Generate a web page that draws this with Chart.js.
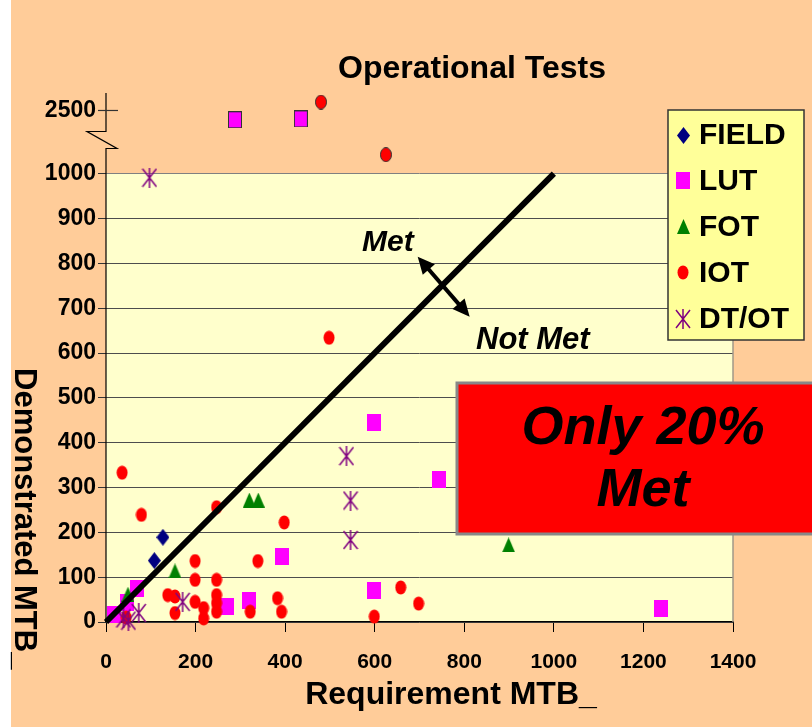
<!DOCTYPE html>
<html>
<head>
<meta charset="utf-8">
<title>Operational Tests</title>
<script src="https://cdn.jsdelivr.net/npm/chart.js@4/dist/chart.umd.min.js"></script>
<style>
  html, body { margin: 0; padding: 0; background: #ffffff; }
  canvas { display: block; }
</style>
</head>
<body>
<canvas id="chart" width="812" height="727"></canvas>
<script>
// requirement (x) vs demonstrated (y) per test type
const fieldReq = [108, 127];
const fieldDemo = [137, 189];

const lutReq = [17, 47, 69, 270, 320, 392, 598, 599, 743, 1239, 288, 435];
const lutDemo = [17, 44, 74, 34, 49, 145, 71, 445, 317, 29, 2280, 2300];

const fotReq = [49, 154, 320, 340, 899];
const fotDemo = [62, 114, 272, 272, 172];

const iotReq = [36, 79, 247, 398, 498, 45, 138, 154, 154, 199, 199, 199, 218, 218,
                247, 247, 247, 247, 322, 339, 383, 392, 599, 658, 698, 480, 625];
const iotDemo = [333, 239, 256, 222, 634, 10, 60, 57, 20, 136, 94, 45, 31, 8,
                 94, 60, 42, 23, 23, 136, 53, 23, 12, 77, 41, 2700, 1450];

const dtotReq = [97, 537, 546, 546, 171, 39, 50, 73];
const dtotDemo = [991, 370, 271, 183, 45, 8, 3, 20];

// requirement = demonstrated line
const goalReq = [0, 1000];
const goalDemo = [0, 1000];

const xTicks = [0, 200, 400, 600, 800, 1000, 1200, 1400];
const xTickLabels = ['0', '200', '400', '600', '800', '1000', '1200', '1400'];
const yTickValues = [0, 100, 200, 300, 400, 500, 600, 700, 800, 900, 1000, 2500];
const yTickLabels = ['0', '100', '200', '300', '400', '500', '600', '700', '800', '900', '1000', '2500'];

const seriesNames = ['FIELD', 'LUT', 'FOT', 'IOT', 'DT/OT'];

const FONT = '"Liberation Sans", Arial, Helvetica, sans-serif';

// values above 1000 are squeezed into the strip above the break
function breakY(v) {
    return v <= 1000 ? v : 1000 + (v - 1000) * 0.094;
}

function pts(xs, ys) {
    return xs.map((x, i) => ({ x: x, y: breakY(ys[i]) }));
}

function makeMarker(w, h, draw) {
    const c = document.createElement('canvas');
    c.width = w;
    c.height = h;
    draw(c.getContext('2d'), w, h);
    return c;
}

const diamond = makeMarker(13, 17, (g, w, h) => {
    g.fillStyle = '#000080';
    g.beginPath();
    g.moveTo(w / 2, 0); g.lineTo(w, h / 2); g.lineTo(w / 2, h); g.lineTo(0, h / 2);
    g.closePath();
    g.fill();
});

function squareMarker(outline) {
    return makeMarker(14, 17, (g, w, h) => {
        g.fillStyle = '#ff00ff';
        g.fillRect(0, 0, w, h);
        if (outline) {
            g.strokeStyle = '#333333';
            g.lineWidth = 1;
            g.strokeRect(0.5, 0.5, w - 1, h - 1);
        }
    });
}
const square = squareMarker(false);
const squareOut = squareMarker(true);

const triangle = makeMarker(13, 15, (g, w, h) => {
    g.fillStyle = '#008000';
    g.beginPath();
    g.moveTo(w / 2, 0); g.lineTo(w, h); g.lineTo(0, h);
    g.closePath();
    g.fill();
});

function dotMarker(outline) {
    return makeMarker(12, 15, (g, w, h) => {
        g.fillStyle = '#ff0000';
        g.beginPath();
        g.ellipse(w / 2, h / 2, w / 2 - 0.5, h / 2 - 0.5, 0, 0, Math.PI * 2);
        g.fill();
        if (outline) {
            g.strokeStyle = '#333333';
            g.lineWidth = 1;
            g.stroke();
        }
    });
}
const dot = dotMarker(false);
const dotOut = dotMarker(true);

const star = makeMarker(16, 20, (g, w, h) => {
    g.strokeStyle = '#800080';
    g.lineWidth = 1.5;
    g.beginPath();
    g.moveTo(1, 1); g.lineTo(w - 1, h - 1);
    g.moveTo(w - 1, 1); g.lineTo(1, h - 1);
    g.moveTo(w / 2, 0); g.lineTo(w / 2, h);
    g.stroke();
});

const legendMarkers = [diamond, square, triangle, dot, star];

function scatterSet(label, data, style, order) {
    return {
        label: label,
        data: data,
        pointStyle: style,
        pointRadius: 8,
        showLine: false,
        clip: false,
        order: order
    };
}

const backdrop = {
    id: 'backdrop',
    beforeDraw(chart) {
        const ctx = chart.ctx;
        const xs = chart.scales.x, ys = chart.scales.y;
        ctx.save();
        ctx.fillStyle = '#ffffff';
        ctx.fillRect(0, 0, chart.width, chart.height);
        ctx.fillStyle = '#ffcc99';
        ctx.fillRect(11, 0, chart.width - 11, chart.height);
        // plot area only covers 0..1000
        const x0 = xs.getPixelForValue(0), x1 = xs.getPixelForValue(1400);
        const yTop = ys.getPixelForValue(1000), yBot = ys.getPixelForValue(0);
        ctx.fillStyle = '#ffffcc';
        ctx.fillRect(x0, yTop, x1 - x0, yBot - yTop);
        ctx.restore();
    }
};

function arrowHead(ctx, fx, fy, tx, ty) {
    const a = Math.atan2(ty - fy, tx - fx);
    const len = 17, half = 8;
    ctx.beginPath();
    ctx.moveTo(tx, ty);
    ctx.lineTo(tx - len * Math.cos(a) + half * Math.sin(a), ty - len * Math.sin(a) - half * Math.cos(a));
    ctx.lineTo(tx - len * Math.cos(a) - half * Math.sin(a), ty - len * Math.sin(a) + half * Math.cos(a));
    ctx.closePath();
    ctx.fill();
}

const overlay = {
    id: 'overlay',
    afterDraw(chart) {
        const ctx = chart.ctx;
        const xs = chart.scales.x, ys = chart.scales.y;
        const area = chart.chartArea;
        ctx.save();

        // right edge of the plot
        ctx.strokeStyle = '#a09888';
        ctx.lineWidth = 1.5;
        ctx.beginPath();
        ctx.moveTo(area.right, ys.getPixelForValue(1000));
        ctx.lineTo(area.right, ys.getPixelForValue(0));
        ctx.stroke();

        // y axis with break
        const ax = area.left;
        const brkTop = 131.5, brkBot = 148.5;
        ctx.strokeStyle = '#000000';
        ctx.lineWidth = 1.2;
        ctx.beginPath();
        ctx.moveTo(ax, area.top);
        ctx.lineTo(ax, brkTop);
        ctx.lineTo(ax - 19, brkTop);
        ctx.lineTo(ax + 11, brkBot);
        ctx.lineTo(ax, brkBot);
        ctx.lineTo(ax, ys.getPixelForValue(0));
        ctx.stroke();
        const y2500 = ys.getPixelForValue(breakY(2500));
        ctx.strokeStyle = '#333333';
        ctx.beginPath();
        ctx.moveTo(ax - 8, y2500);
        ctx.lineTo(ax + 12, y2500);
        ctx.stroke();

        // titles
        ctx.fillStyle = '#000000';
        ctx.textBaseline = 'alphabetic';
        ctx.textAlign = 'center';
        ctx.font = 'bold 32px ' + FONT;
        ctx.fillText('Operational Tests', 472, 78);
        ctx.font = 'bold 32px ' + FONT;
        ctx.fillText('Requirement MTB_', 451, 704);

        ctx.save();
        ctx.font = 'bold 31px ' + FONT;
        ctx.translate(15, 368);
        ctx.rotate(Math.PI / 2);
        ctx.textAlign = 'left';
        ctx.fillText('Demonstrated MTB_', 0, 0);
        ctx.restore();

        // Met / Not Met arrow
        const ax1 = xs.getPixelForValue(696), ay1 = ys.getPixelForValue(815);
        const ax2 = xs.getPixelForValue(812), ay2 = ys.getPixelForValue(681);
        ctx.strokeStyle = '#000000';
        ctx.fillStyle = '#000000';
        ctx.lineWidth = 4;
        ctx.beginPath();
        const dx = ax2 - ax1, dy = ay2 - ay1, d = Math.hypot(dx, dy);
        ctx.moveTo(ax1 + dx / d * 12, ay1 + dy / d * 12);
        ctx.lineTo(ax2 - dx / d * 12, ay2 - dy / d * 12);
        ctx.stroke();
        arrowHead(ctx, ax2, ay2, ax1, ay1);
        arrowHead(ctx, ax1, ay1, ax2, ay2);

        ctx.font = 'italic bold 30px ' + FONT;
        ctx.textAlign = 'left';
        ctx.fillText('Met', 362, 251);
        ctx.font = 'italic bold 31px ' + FONT;
        ctx.fillText('Not Met', 476, 349);

        // legend
        ctx.fillStyle = '#ffff99';
        ctx.fillRect(668, 110, 136, 230);
        ctx.strokeStyle = '#333333';
        ctx.lineWidth = 1.5;
        ctx.strokeRect(668, 110, 136, 230);
        ctx.font = 'bold 30px ' + FONT;
        ctx.textBaseline = 'middle';
        ctx.fillStyle = '#000000';
        seriesNames.forEach((name, i) => {
            const cy = 135 + i * 45.9;
            const m = legendMarkers[i];
            ctx.drawImage(m, Math.round(683 - m.width / 2), Math.round(cy - m.height / 2));
            ctx.fillText(name, 699, cy + 1);
        });

        // callout box
        ctx.fillStyle = '#ff0000';
        ctx.fillRect(457, 383, 360, 151);
        ctx.strokeStyle = '#888888';
        ctx.lineWidth = 3;
        ctx.strokeRect(457, 383, 360, 151);
        ctx.fillStyle = '#000000';
        ctx.textAlign = 'center';
        ctx.textBaseline = 'alphabetic';
        ctx.font = 'italic bold 54px ' + FONT;
        ctx.fillText('Only 20%', 643, 444);
        ctx.fillText('Met', 643, 506);

        ctx.restore();
    }
};

new Chart(document.getElementById('chart'), {
    type: 'scatter',
    data: {
        datasets: [
            {
                label: 'Goal',
                data: pts(goalReq, goalDemo),
                showLine: true,
                borderColor: '#000000',
                borderWidth: 6,
                pointRadius: 0,
                clip: false,
                order: 0
            },
            scatterSet('FIELD', pts(fieldReq, fieldDemo), diamond, 5),
            scatterSet('LUT', pts(lutReq, lutDemo), ctx => (ctx.raw && ctx.raw.y > 1000 ? squareOut : square), 4),
            scatterSet('FOT', pts(fotReq, fotDemo), triangle, 3),
            scatterSet('IOT', pts(iotReq, iotDemo), ctx => (ctx.raw && ctx.raw.y > 1000 ? dotOut : dot), 2),
            scatterSet('DT/OT', pts(dtotReq, dtotDemo), star, 1)
        ]
    },
    options: {
        responsive: false,
        animation: false,
        events: [],
        layout: { padding: { top: 93, right: 79, left: 0, bottom: 0 } },
        plugins: {
            legend: { display: false },
            tooltip: { enabled: false }
        },
        scales: {
            x: {
                type: 'linear',
                min: 0,
                max: 1400,
                afterBuildTicks: s => { s.ticks = xTicks.map(v => ({ value: v })); },
                afterFit: s => { s.height = 105; },
                ticks: {
                    color: '#000000',
                    font: { family: FONT, size: 21, weight: 'bold' },
                    padding: 18,
                    maxRotation: 0,
                    callback: (v, i) => xTickLabels[i]
                },
                grid: { drawOnChartArea: false, color: '#000000', tickColor: '#000000', tickLength: 10 },
                border: { color: '#000000', width: 1.2 }
            },
            y: {
                type: 'linear',
                min: 0,
                max: 1180,
                afterBuildTicks: s => { s.ticks = yTickValues.map(v => ({ value: breakY(v) })); },
                afterFit: s => { s.width = 106; },
                ticks: {
                    autoSkip: false,
                    color: '#000000',
                    font: { family: FONT, size: 23, weight: 'bold' },
                    padding: 2,
                    callback: (v, i) => yTickLabels[i]
                },
                grid: {
                    color: c => (c.tick && c.tick.value > 1000 ? 'rgba(0,0,0,0)' : (c.tick && c.tick.value === 1000 ? '#808080' : '#4d4d4d')),
                    tickColor: c => (c.tick && c.tick.value > 1000 ? 'rgba(0,0,0,0)' : '#333333'),
                    tickLength: 8,
                    lineWidth: 1
                },
                border: { display: false }
            }
        }
    },
    plugins: [backdrop, overlay]
});
</script>
</body>
</html>
